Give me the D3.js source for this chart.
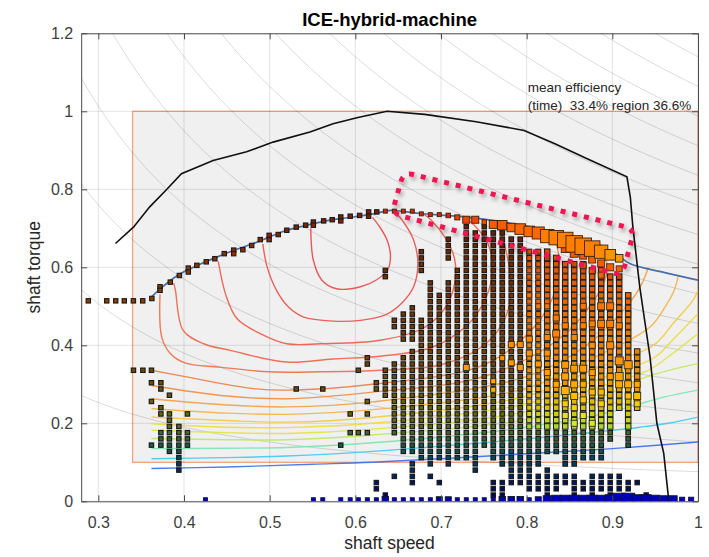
<!DOCTYPE html>
<html><head><meta charset="utf-8">
<script src="https://cdn.jsdelivr.net/npm/d3@7"></script>
<style>
html,body{margin:0;padding:0;background:#fff;}
svg{display:block;font-family:"Liberation Sans",Arial,Helvetica,sans-serif;}
</style></head><body>
<svg id="chart" width="709" height="557"></svg>
<script>
// ---------------- DATA ----------------
const xTickValues = [0.3,0.4,0.5,0.6,0.7,0.8,0.9,1];
const yTickValues = [0,0.2,0.4,0.6,0.8,1,1.2];

// constant-power reference lines (torque*speed)
const powerLevels = [0.076,0.152,0.228,0.304,0.38,0.456,0.532,0.608,0.684,0.76,0.836,0.912,0.988,1.064,1.14];

// machine operating region
const regionSpeed = [0.34, 1.0];
const regionTorque = [0.1, 1.0];

// max torque curve
const maxSpeed  = [0.32,0.341,0.36,0.38,0.397,0.434,0.473,0.504,0.547,0.574,0.603,0.637,0.681,0.741,0.797,0.833,0.87,0.917,0.921,0.924,0.932,0.944,0.952,0.96,0.966];
const maxTorque = [0.661,0.703,0.755,0.80,0.84,0.874,0.896,0.921,0.947,0.968,0.984,1.0,0.992,0.973,0.951,0.917,0.879,0.832,0.78,0.703,0.55,0.37,0.2,0.123,0.0];

// optimal operating line
const optSpeed  = [0.362,0.375,0.396,0.418,0.438,0.46,0.481,0.50,0.52,0.54,0.559,0.58,0.598,0.625,0.641,0.66,0.676,0.718,0.773,0.82,0.86,0.9,0.921,0.96,1.0];
const optTorque = [0.524,0.55,0.584,0.607,0.626,0.645,0.661,0.678,0.695,0.706,0.716,0.724,0.729,0.739,0.746,0.742,0.738,0.731,0.716,0.697,0.672,0.64,0.609,0.587,0.567];

// efficiency contours (level, speeds, torques)
const contourLevels = [0.375,0.371,0.367,0.362,0.356,0.35,0.343,0.335,0.325,0.315,0.305,0.295,0.28,0.26,0.235,0.20];
const contourSpeeds = [
 [0.548,0.551,0.561,0.578,0.606,0.625,0.638,0.641,0.637,0.628,0.62],
 [0.492,0.497,0.508,0.522,0.539,0.574,0.606,0.635,0.655,0.668,0.673,0.668,0.655,0.645],
 [0.44,0.449,0.462,0.489,0.52,0.559,0.629,0.68,0.706,0.716,0.716,0.706,0.689,0.68],
 [0.388,0.39,0.399,0.423,0.454,0.52,0.574,0.629,0.69,0.73,0.752,0.76,0.755,0.74,0.728],
 [0.372,0.374,0.384,0.401,0.442,0.5,0.559,0.629,0.7,0.75,0.775,0.782,0.778,0.77,0.765],
 [0.362,0.403,0.481,0.52,0.62,0.75,0.81,0.835,0.838,0.833,0.826],
 [0.362,0.45,0.52,0.62,0.75,0.84,0.88,0.893,0.892,0.886],
 [0.362,0.45,0.52,0.62,0.8,0.87,0.92,0.935,0.942],
 [0.362,0.45,0.52,0.62,0.8,0.88,0.944,0.962,0.972,0.977],
 [0.362,0.45,0.52,0.62,0.8,0.88,0.948,0.971,0.994,1.0],
 [0.362,0.45,0.52,0.62,0.8,0.88,0.95,0.97,1.0],
 [0.362,0.45,0.52,0.62,0.8,0.88,0.942,0.965,1.0],
 [0.362,0.45,0.52,0.62,0.8,0.88,0.94,1.0],
 [0.362,0.45,0.52,0.62,0.8,0.9,0.932,0.96,1.0],
 [0.362,0.45,0.52,0.62,0.8,0.9,0.932,0.965,1.0],
 [0.362,0.45,0.55,0.62,0.8,0.9,1.0]
];
const contourTorques = [
 [0.70,0.618,0.567,0.545,0.55,0.568,0.595,0.63,0.67,0.705,0.728],
 [0.66,0.601,0.541,0.498,0.473,0.462,0.464,0.478,0.51,0.55,0.61,0.67,0.72,0.745],
 [0.615,0.528,0.468,0.43,0.404,0.404,0.413,0.445,0.5,0.56,0.62,0.672,0.72,0.736],
 [0.56,0.541,0.438,0.404,0.387,0.357,0.365,0.372,0.395,0.45,0.52,0.59,0.66,0.705,0.727],
 [0.53,0.421,0.379,0.355,0.344,0.332,0.332,0.336,0.35,0.4,0.47,0.55,0.62,0.69,0.715],
 [0.336,0.319,0.289,0.285,0.3,0.35,0.45,0.55,0.62,0.67,0.698],
 [0.297,0.27,0.263,0.28,0.32,0.42,0.52,0.58,0.63,0.66],
 [0.263,0.247,0.242,0.255,0.32,0.4,0.508,0.56,0.6],
 [0.238,0.226,0.223,0.235,0.29,0.37,0.447,0.5,0.54,0.578],
 [0.216,0.207,0.203,0.215,0.27,0.34,0.4,0.456,0.515,0.541],
 [0.199,0.19,0.189,0.2,0.25,0.31,0.37,0.413,0.481],
 [0.182,0.176,0.174,0.185,0.23,0.29,0.336,0.37,0.43],
 [0.161,0.158,0.158,0.17,0.21,0.26,0.319,0.353],
 [0.135,0.136,0.138,0.15,0.19,0.23,0.25,0.267,0.285],
 [0.109,0.112,0.116,0.128,0.16,0.182,0.19,0.2,0.216],
 [0.084,0.088,0.095,0.1,0.122,0.135,0.152]
];

// operating points on the torque grid: [speed, [[torqueFrom, torqueTo, timeShare], ...]]
const torqueGridStep = 0.016;
const gridColumns = [
 [0.341,[[0.336,0.336,1.2]]],
 [0.352,[[0.336,0.336,1.2]]],
 [0.362,[[0.144,0.144,1.2],[0.256,0.256,1.2],[0.304,0.304,1.2],[0.336,0.336,1.2]]],
 [0.373,[[0.144,0.176,1.2],[0.224,0.24,1.2],[0.288,0.304,1.2]]],
 [0.383,[[0.128,0.208,1.2],[0.224,0.224,1.2],[0.272,0.272,1.2]]],
 [0.394,[[0.08,0.192,1.2]]],
 [0.404,[[0.144,0.176,1.2],[0.224,0.224,1.2]]],
 [0.531,[[0.288,0.288,1.2]]],
 [0.562,[[0.288,0.288,1.2]]],
 [0.583,[[0.144,0.144,1.2]]],
 [0.594,[[0.176,0.176,1.2],[0.224,0.224,1.2]]],
 [0.6035,[[0.176,0.176,1.2],[0.336,0.336,1.2]]],
 [0.614,[[0.176,0.176,1.2],[0.224,0.224,1.2],[0.256,0.256,1.2],[0.352,0.368,1.2]]],
 [0.6245,[[0.032,0.048,1.2],[0.288,0.304,1.2]]],
 [0.635,[[0.016,0.016,1.2],[0.272,0.336,1.2],[0.576,0.592,1.2]]],
 [0.6455,[[0.064,0.064,1.2],[0.176,0.352,1.2],[0.448,0.464,1.2]]],
 [0.656,[[0.128,0.368,1.2],[0.416,0.48,1.2]]],
 [0.6665,[[0.048,0.096,1.2],[0.128,0.384,1.2],[0.416,0.496,1.2]]],
 [0.677,[[0.112,0.464,1.2],[0.592,0.64,1.2]]],
 [0.6875,[[0.064,0.064,1.2],[0.096,0.56,1.2]]],
 [0.698,[[0.048,0.048,1.2],[0.112,0.528,1.2]]],
 [0.7085,[[0.096,0.56,1.2],[0.624,0.672,1.2]]],
 [0.719,[[0.112,0.592,1.2]]],
 [0.7295,[[0.112,0.704,1.2]]],
 [0.74,[[0.08,0.096,1.2],[0.112,0.688,1.2]]],
 [0.7505,[[0.144,0.704,1.2]]],
 [0.761,[[0.016,0.048,1.2],[0.112,0.688,1.3]]],
 [0.7715,[[0.016,0.048,1.2],[0.096,0.688,1.3]]],
 [0.782,[[0.048,0.08,1.2],[0.096,0.672,1.3]]],
 [0.7925,[[0.048,0.08,1.2],[0.096,0.672,1.3]]],
 [0.803,[[0.032,0.08,1.2],[0.096,0.176,1.3],[0.192,0.64,1.6]]],
 [0.8135,[[0.032,0.064,1.2],[0.096,0.176,1.3],[0.192,0.64,1.6]]],
 [0.824,[[0.016,0.08,1.2],[0.128,0.176,1.3],[0.192,0.64,1.9]]],
 [0.8345,[[0.032,0.064,1.2],[0.128,0.176,1.3],[0.192,0.624,1.9]]],
 [0.845,[[0.048,0.064,1.2],[0.096,0.176,1.3],[0.192,0.608,1.9]]],
 [0.8555,[[0.016,0.064,1.2],[0.096,0.176,1.3],[0.192,0.608,1.9]]],
 [0.866,[[0.032,0.048,1.2],[0.112,0.176,1.3],[0.192,0.608,1.9]]],
 [0.8765,[[0.016,0.064,1.2],[0.112,0.176,1.3],[0.192,0.592,1.9]]],
 [0.887,[[0.032,0.064,1.2],[0.112,0.176,1.3],[0.192,0.592,1.9]]],
 [0.8975,[[0.016,0.064,1.2],[0.16,0.176,1.3],[0.192,0.576,1.9]]],
 [0.908,[[0.032,0.064,1.2],[0.24,0.576,1.9]]],
 [0.9185,[[0.032,0.048,1.2],[0.144,0.176,1.3],[0.192,0.528,1.9]]],
 [0.929,[[0.048,0.048,1.2],[0.24,0.384,1.9]]],
 [0.9395,[[0.016,0.016,1.2]]]
];

// points along the optimal line
const linePtSpeed  = [0.2883,0.3098,0.3203,0.3303,0.3409,0.3518,0.3625,0.372,0.372,0.384,0.3946,0.405,0.405,0.415,0.426,0.436,0.447,0.458,0.458,0.4687,0.479,0.489,0.4994,0.4994,0.51,0.52,0.531,0.542,0.551,0.551,0.563,0.573,0.583,0.583,0.594,0.605,0.6155,0.6155,0.625];
const linePtTorque = [0.514,0.514,0.514,0.514,0.514,0.514,0.52,0.55,0.541,0.562,0.579,0.598,0.588,0.605,0.614,0.622,0.635,0.644,0.635,0.645,0.656,0.671,0.682,0.671,0.684,0.695,0.703,0.708,0.716,0.708,0.719,0.722,0.729,0.719,0.731,0.733,0.742,0.731,0.742];

// upper row of heavily used points (along the optimal line)
const topSpeed  = [0.635,0.6455,0.656,0.6665,0.677,0.6875,0.698,0.7085,0.719,0.7295,0.74,0.7505,0.761,0.7715,0.782,0.7925,0.803,0.8135,0.824,0.8345,0.845,0.8555,0.866,0.8765,0.887,0.8975,0.908];
const topTorque = [0.744,0.744,0.744,0.744,0.737,0.735,0.735,0.733,0.728,0.722,0.722,0.716,0.71,0.708,0.702,0.698,0.692,0.688,0.68,0.676,0.67,0.66,0.654,0.648,0.64,0.632,0.623];
const topTime   = [1,1,1,1,1,1,1,1.3,1.6,3.1,3.1,1.3,4,5.6,4.5,7,7,9,11,13,15,17,17,15,11,7,3.6];
const topEff    = [37.5,37.5,37.5,37.5,37.5,37.5,37.5,37.5,37,36.8,36.8,36.6,36.3,36.3,36,36,36,36,35.5,35.5,35.5,35.5,35.5,35.5,35.2,35,34.8];

// medium-weight points inside the map
const medSpeed  = [0.7295,0.761,0.761,0.7715,0.782,0.782,0.7925,0.7925,0.803,0.803,0.803,0.8135,0.8135,0.824,0.824,0.824,0.824,0.8345,0.8345,0.8345,0.845,0.845,0.845,0.845,0.845,0.845,0.8555,0.8555,0.8555,0.8555,0.8555,0.8555,0.866,0.866,0.866,0.866,0.866,0.866,0.8765,0.8765,0.8765,0.8765,0.8765,0.887,0.887,0.887,0.887,0.8975,0.8975,0.8975,0.8975,0.908,0.908,0.908,0.908,0.9185,0.9185,0.9185,0.9185,0.929,0.929,0.929,0.845,0.8555,0.866,0.8765,0.887,0.8975,0.908,0.866,0.8765,0.887];
const medTorque = [0.343,0.308,0.286,0.367,0.402,0.355,0.402,0.343,0.528,0.416,0.38,0.5,0.352,0.5,0.42,0.38,0.33,0.47,0.43,0.3,0.45,0.35,0.32,0.284,0.25,0.22,0.42,0.34,0.3,0.27,0.24,0.2,0.5,0.45,0.34,0.3,0.26,0.22,0.455,0.4,0.33,0.28,0.2,0.5,0.455,0.28,0.25,0.5,0.455,0.4,0.32,0.45,0.36,0.32,0.3,0.48,0.35,0.3,0.27,0.3,0.27,0.25,0.648,0.636,0.63,0.62,0.61,0.6,0.596,0.604,0.592,0.58];
const medTime   = [2.25,1.6,1.6,1.6,2.25,2.25,2.25,2.25,1.6,2.25,2.25,1.6,2.25,1.6,2.25,2.25,2.25,2.25,3.1,2.25,2.25,3.1,3.1,4,2.25,2.25,2.25,3.1,3.1,3.1,2.25,2.25,2.25,2.25,3.1,2.25,2.25,2.25,2.25,2.25,2.25,2.25,2.25,3.1,3.1,2.25,2.25,3.1,3.1,3.1,2.25,2.25,4,4,3.1,1.6,4,3.1,2.25,2.25,3.1,2.25,4,4,3.1,3.1,3.1,3.1,2.25,2.25,2.25,2.25];

// zero-torque row
const zeroSpeed = [0.425,0.551,0.562,0.583,0.594,0.6035,0.614,0.6245,0.635,0.6455,0.656,0.6665,0.677,0.6875,0.698,0.7085,0.719,0.7295,0.74,0.7505,0.761,0.7715,0.782,0.7925,0.803,0.8135,0.824,0.8345,0.845,0.8555,0.866,0.8765,0.887,0.8975,0.908,0.9185,0.929,0.9395,0.95,0.9605,0.971,0.9815,0.992];
const zeroTime  = [1,1,1,1,1,1,1,1,2.6,1,1,1,1,1,2.25,2.25,1,1,1,1,1,2.6,2.6,2.6,1,2.25,4,5.1,5.1,5.1,5.1,5.1,5.1,6.3,10.6,10.6,6.3,6.3,5.1,4,4,1.6,1.6];
const zeroTorque = 0.004;

// annotation box corners (speed, torque)
const annotSpeed  = [0.6563,0.926,0.9114,0.6427];
const annotTorque = [0.844,0.698,0.579,0.738];

const meanEffLines = ["mean efficiency", "(time)  33.4% region 36.6%"];
const titleText = "ICE-hybrid-machine";

// ---------------- CHART ----------------
const svg = d3.select('#chart');
const X0 = 81.2, X1 = 698, Y0 = 501.3, Y1 = 33.3;
const x = d3.scaleLinear().domain([0.28, 1]).range([X0, X1]);
const y = d3.scaleLinear().domain([0, 1.2]).range([Y0, Y1]);
const side = d3.scaleSqrt().domain([0, 1]).range([0, 4]);

const contourColor = d3.scaleLinear()
  .domain([0.20,0.235,0.26,0.28,0.30,0.315,0.33,0.343,0.356,0.367,0.375])
  .range(["#3a6ee8","#3fc9ee","#79e6b0","#bde95a","#eae23d","#f4c93e","#f4a844","#f28b40","#ee6d44","#ec5a48","#e84848"]);
const torqueColor = d3.scaleLinear()
  .domain([0,0.05,0.1,0.14,0.18,0.21,0.25,0.3,0.4,0.5,0.62,0.75])
  .range(["#0000c0","#0030e0","#0090d0","#30c8a0","#a8ec40","#dced20","#f4d000","#ffa800","#ff8c00","#ff7400","#ff5a00","#e83000"]);
const effColor = d3.scaleLinear().domain([34.8,35.5,36.5,37.5])
  .range(["#ff9a00","#ff8000","#ff5000","#e02000"]);

const defs = svg.append('defs');
defs.append('clipPath').attr('id','plotClip').append('rect')
  .attr('x',X0).attr('y',Y1).attr('width',X1-X0).attr('height',Y0-Y1);
const sh = defs.append('filter').attr('id','shadow').attr('x','-20%').attr('y','-30%').attr('width','140%').attr('height','170%');
sh.append('feDropShadow').attr('dx',2).attr('dy',3).attr('stdDeviation',2).attr('flood-color','#000').attr('flood-opacity',0.35);

const plot = svg.append('g').attr('clip-path','url(#plotClip)');

// region
plot.append('rect')
  .attr('x', x(regionSpeed[0])).attr('y', y(regionTorque[1]))
  .attr('width', x(regionSpeed[1]) - x(regionSpeed[0]))
  .attr('height', y(regionTorque[0]) - y(regionTorque[1]))
  .attr('fill','#f0f0f0').attr('stroke','#f2a27f').attr('stroke-width',1.3);

// grid
plot.append('g').selectAll('line').data(xTickValues).join('line')
  .attr('x1',d=>x(d)).attr('x2',d=>x(d)).attr('y1',Y0).attr('y2',Y1)
  .attr('stroke','rgba(38,38,38,0.13)').attr('stroke-width',1);
plot.append('g').selectAll('line').data(yTickValues).join('line')
  .attr('y1',d=>y(d)).attr('y2',d=>y(d)).attr('x1',X0).attr('x2',X1)
  .attr('stroke','rgba(38,38,38,0.13)').attr('stroke-width',1);

// constant power lines
const speedSamples = d3.range(0.28, 1.0001, 0.004);
plot.append('g').selectAll('path').data(powerLevels).join('path')
  .attr('d', P => d3.line().x(s=>x(s)).y(s=>y(P/s))(speedSamples.filter(s => P/s < 1.3)))
  .attr('fill','none').attr('stroke','rgba(0,0,0,0.16)').attr('stroke-width',0.9);

// contours
const cLine = d3.line().x(d=>x(d[0])).y(d=>y(d[1])).curve(d3.curveCatmullRom.alpha(0.5));
plot.append('g').selectAll('path').data(contourLevels.map((lv,k)=>({lv, pts: contourSpeeds[k].map((s,j)=>[s, contourTorques[k][j]])})))
  .join('path').attr('d', d=>cLine(d.pts))
  .attr('fill','none').attr('stroke', d=>contourColor(d.lv)).attr('stroke-width',1.4).attr('opacity',0.9);

// optimal line
plot.append('path').datum(optSpeed.map((s,k)=>[s,optTorque[k]]))
  .attr('d', d3.line().x(d=>x(d[0])).y(d=>y(d[1])).curve(d3.curveCatmullRom))
  .attr('fill','none').attr('stroke','#4a6ea6').attr('stroke-width',1.7);

// max torque curve
plot.append('path').datum(maxSpeed.map((s,k)=>[s,maxTorque[k]]))
  .attr('d', d3.line().x(d=>x(d[0])).y(d=>y(d[1])))
  .attr('fill','none').attr('stroke','#111').attr('stroke-width',1.6);

// operating points
const gridPts = [];
gridColumns.forEach(([s, runs]) => {
  runs.forEach(([lo, hi, t]) => {
    const k0 = Math.round(lo/torqueGridStep), k1 = Math.round(hi/torqueGridStep);
    for (let k=k0;k<=k1;k++) gridPts.push({s, q: k*torqueGridStep, t});
  });
});
const linePts = linePtSpeed.map((s,k)=>({s, q: linePtTorque[k], t:1.2}));
const medPts = medSpeed.map((s,k)=>({s, q: medTorque[k], t: medTime[k]}));
const topPts = topSpeed.map((s,k)=>({s, q: topTorque[k], t: topTime[k], e: topEff[k]}));
const zeroPts = zeroSpeed.map((s,k)=>({s, q: zeroTorque, t: zeroTime[k]}));

function squares(g, data, fill, stroke, sw){
  g.selectAll(null).data(data).join('rect')
    .attr('x', d=>x(d.s)-side(d.t)/2).attr('y', d=>y(d.q)-side(d.t)/2)
    .attr('width', d=>side(d.t)).attr('height', d=>side(d.t))
    .attr('fill', fill).attr('stroke', stroke).attr('stroke-width', sw);
}
const ptsG = plot.append('g');
squares(ptsG, gridPts, d => d.t < 1.5 ? d3.interpolateRgb(torqueColor(d.q), '#000')(0.55) : d3.interpolateRgb(torqueColor(d.q), '#000')(0.1), '#1a1a1a', d => d.t < 1.5 ? 1.15 : 1.0);
squares(ptsG, linePts, d => d3.interpolateRgb(torqueColor(d.q), '#000')(0.45), '#1a1a1a', 1.1);
squares(ptsG, medPts, d => torqueColor(d.q), '#3a2a10', 0.9);
squares(ptsG, topPts, d => effColor(d.e), '#3a2008', 0.9);
squares(ptsG, zeroPts, '#0000b8', '#101030', 0.9);

// axes
const axG = svg.append('g');
function styleAxis(g){
  g.attr('font-size',null).attr('font-family',null);
  g.selectAll('text').attr('font-size','16px').attr('fill','#404040');
  g.selectAll('.domain').attr('stroke','#4a4a4a').attr('stroke-width',1);
  g.selectAll('.tick line').attr('stroke','#4a4a4a');
}
axG.append('g').attr('transform',`translate(0,${Y0})`)
  .call(d3.axisBottom(x).tickValues(xTickValues).tickSize(-6).tickSizeOuter(0).tickPadding(15.6).tickFormat(d=>String(d))).call(styleAxis);
axG.append('g').attr('transform',`translate(${X0},0)`)
  .call(d3.axisLeft(y).tickValues(yTickValues).tickSize(-6).tickSizeOuter(0).tickPadding(8).tickFormat(d=>String(d))).call(styleAxis);
axG.append('g').attr('transform',`translate(0,${Y1})`)
  .call(d3.axisTop(x).tickValues(xTickValues).tickSize(-6).tickSizeOuter(0).tickFormat('')).call(styleAxis);
axG.append('g').attr('transform',`translate(${X1},0)`)
  .call(d3.axisRight(y).tickValues(yTickValues).tickSize(-6).tickSizeOuter(0).tickFormat('')).call(styleAxis);

// annotation
function roundedPath(pts, r){
  const n = pts.length; let d = '';
  for (let k=0;k<n;k++){
    const p0 = pts[(k-1+n)%n], p1 = pts[k], p2 = pts[(k+1)%n];
    const v1 = [p0[0]-p1[0], p0[1]-p1[1]], v2 = [p2[0]-p1[0], p2[1]-p1[1]];
    const l1 = Math.hypot(v1[0],v1[1]), l2 = Math.hypot(v2[0],v2[1]);
    const a = [p1[0]+v1[0]/l1*r, p1[1]+v1[1]/l1*r], b = [p1[0]+v2[0]/l2*r, p1[1]+v2[1]/l2*r];
    d += (k===0?'M':'L') + a[0] + ',' + a[1] + 'Q' + p1[0] + ',' + p1[1] + ' ' + b[0] + ',' + b[1];
  }
  return d + 'Z';
}
svg.append('path')
  .attr('d', roundedPath(annotSpeed.map((s,k)=>[x(s), y(annotTorque[k])]), 10))
  .attr('fill','none').attr('stroke','#f0144f').attr('stroke-width',5)
  .attr('stroke-dasharray','5 7').attr('filter','url(#shadow)');

// mean efficiency text
svg.append('g').selectAll('text').data(meanEffLines).join('text')
  .attr('x', x(0.8012)).attr('y', (d,k)=> y(k===0 ? 1.049 : 1.0026))
  .style('white-space','pre').attr('font-size','13.5px').attr('fill','#262626')
  .text(d=>d);

// title & labels
svg.append('text').attr('x',(X0+X1)/2).attr('y',26).attr('text-anchor','middle')
  .attr('font-size','18.5px').attr('font-weight','bold').attr('fill','#000').text(titleText);
svg.append('text').attr('x',(X0+X1)/2).attr('y',549).attr('text-anchor','middle')
  .attr('font-size','17.5px').attr('fill','#262626').text('shaft speed');
svg.append('text').attr('transform',`translate(40,${(Y0+Y1)/2}) rotate(-90)`).attr('text-anchor','middle')
  .attr('font-size','17.5px').attr('fill','#262626').text('shaft torque');
</script></body></html>
